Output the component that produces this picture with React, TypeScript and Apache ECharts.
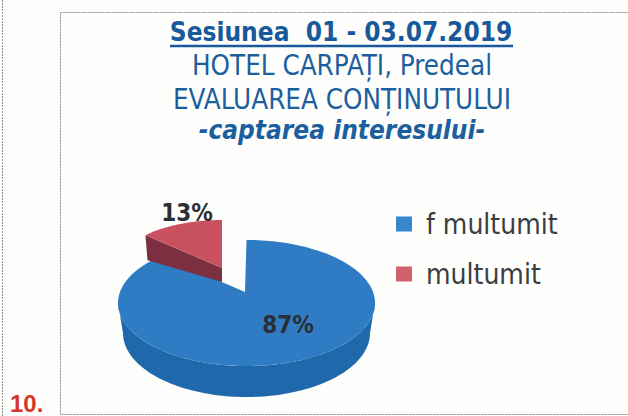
import React, { useEffect, useRef } from "react";
import * as echarts from "echarts";

const sliceNames = ["f multumit", "multumit"];
const sliceValues = [87, 13];
const sliceLabels = ["87%", "13%"];
const titleLines = ["Sesiunea  01 - 03.07.2019", "HOTEL CARPAȚI, Predeal", "EVALUAREA CONȚINUTULUI", "-captarea interesului-"];

const total = sliceValues.reduce((a, b) => a + b, 0);
const blueGeo = { cx: 246.5, cy: 303, ax: 245, ay: 292, rx: 128.5, ry: 63, top: "#2f7cc4", side: "#2068ac", lx: 288, ly: 325, endSkew: 0.09 };
const redGeo = { cx: 222, cy: 268, ax: 222, ay: 268, rx: 105, ry: 48, top: "#c9515f", side: "#7c2f40", lx: 187, ly: 213, endSkew: 0 };
const geos = [blueGeo, redGeo];

function rim(g: any, a: number) {
  return [g.cx + g.rx * Math.sin(a), g.cy - g.ry * Math.cos(a)];
}
function arcPts(g: any, a0: number, a1: number) {
  const n = Math.max(2, Math.ceil(Math.abs(a1 - a0) / 0.03));
  const out: number[][] = [];
  for (let i = 0; i <= n; i++) out.push(rim(g, a0 + ((a1 - a0) * i) / n));
  return out;
}

function makeSeries(i: number) {
  const g = geos[i];
  return {
    type: "custom",
    name: sliceNames[i],
    coordinateSystem: "none",
    silent: true,
    itemStyle: { color: g.top },
    data: [[sliceValues[i]]],
    renderItem: (_: any, api: any) => {
      const sweep = ((api.value(0) as number) / total) * Math.PI * 2;
      const children: any[] = [];
      let topPts: number[][];
      if (i === 0) {
        const lower = { ...g, rx: g.rx - 5, cy: g.cy + 30, ry: g.ry + 1 };
        const wall = arcPts(g, Math.PI / 2, Math.PI * 1.5).concat(arcPts(lower, Math.PI * 1.5, Math.PI / 2));
        children.push({ type: "polygon", shape: { points: wall }, style: { fill: g.side } });
        topPts = [[g.ax, g.ay]].concat(arcPts(g, 0, sweep + g.endSkew));
      } else {
        // the exploded slice ends at 12 o'clock and its cut face looks towards the viewer
        const a0 = Math.PI * 2 - sweep;
        const q = rim(g, a0);
        const cut = [[g.ax, g.ay], q, [q[0] + 2, q[1] + 25], [g.ax, g.ay + 14]];
        children.push({ type: "polygon", shape: { points: cut }, style: { fill: g.side } });
        topPts = [[g.ax, g.ay]].concat(arcPts(g, a0, Math.PI * 2));
      }
      children.push({ type: "polygon", shape: { points: topPts }, style: { fill: g.top } });
      children.push({
        type: "text",
        x: g.lx,
        y: g.ly,
        style: {
          text: sliceLabels[i],
          fill: "#2b2f35",
          font: "bold 24px 'DejaVu Sans Condensed', 'DejaVu Sans', sans-serif",
          align: "center",
          verticalAlign: "middle",
        },
      });
      return { type: "group", children };
    },
  };
}

export default function App() {
  const ref = useRef<HTMLDivElement>(null);
  useEffect(() => {
    const chart = echarts.init(ref.current!, null, { renderer: "svg" });
    const titleFont = "'DejaVu Sans Condensed', 'DejaVu Sans', sans-serif";
    const titleY = [32, 65, 98.5, 130];
    const titleSize = [26, 27.5, 27.5, 26];
    chart.setOption({
      animation: false,
      backgroundColor: "#fefefc",
      title: titleLines.map((t, i) => ({
        text: t,
        left: i === 0 ? 341 : 342,
        top: titleY[i] - titleSize[i] / 2,
        textAlign: "center",
        padding: 0,
        textStyle: {
          color: i === 0 ? "#17599b" : "#1c5f9f",
          fontFamily: titleFont,
          fontSize: titleSize[i],
          fontWeight: i === 0 || i === 3 ? "bold" : "normal",
          fontStyle: i === 3 ? "italic" : "normal",
        },
      })),
      legend: {
        orient: "vertical",
        left: 396,
        top: 210,
        itemWidth: 16,
        itemHeight: 15,
        itemGap: 22,
        icon: "rect",
        selectedMode: false,
        padding: 0,
        data: [
          { name: sliceNames[0], itemStyle: { color: "#3a86cf" } },
          { name: sliceNames[1], itemStyle: { color: "#d2606c" } },
        ],
        textStyle: { color: "#3a3d42", fontSize: 28, fontFamily: titleFont, padding: [0, 0, 0, 9] },
      },
      graphic: [
        { type: "rect", shape: { x: 60.5, y: 12.5, width: 600, height: 402 }, style: { fill: "none", stroke: "#8a8a8a", lineWidth: 1, lineDash: [2, 1] } },
        { type: "line", shape: { x1: 2.5, y1: 0, x2: 2.5, y2: 416 }, style: { stroke: "#8a8a8a", lineWidth: 1, lineDash: [2, 1] } },
        { type: "line", shape: { x1: 170, y1: 46, x2: 513, y2: 46 }, style: { stroke: "#17599b", lineWidth: 2.5 } },
        { type: "text", x: 10, y: 391, style: { text: "10.", fill: "#d5352b", font: "bold 24px 'Liberation Sans', sans-serif" } },
      ],
      series: sliceValues.map((_, i) => makeSeries(i)),
    });
    return () => chart.dispose();
  }, []);
  return <div ref={ref} style={{ position: "fixed", left: 0, top: 0, width: 628, height: 416 }} />;
}
